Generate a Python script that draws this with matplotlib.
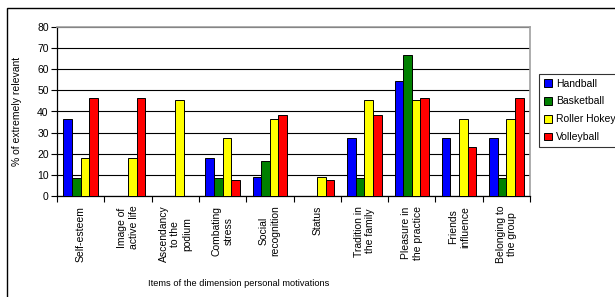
import numpy as np
import matplotlib
matplotlib.use("Agg")
import matplotlib.pyplot as plt
from matplotlib.patches import Rectangle

# ---------------------------------------------------
# DATA
# ---------------------------------------------------
categories = [
    "Self-esteem", "Image of\nactive life", "Ascendancy\nto the\npodium",
    "Combating\nstress", "Social\nrecognition", "Status",
    "Tradition in\nthe family", "Pleasure in\nthe practice",
    "Friends\ninfluence", "Belonging to\nthe group",
]
series_names = ["Handball", "Basketball", "Roller Hokey", "Volleyball"]
handball = [36.4, 0, 0, 18.2, 9.1, 0, 27.3, 54.5, 27.3, 27.3]
basketball = [8.3, 0, 0, 8.3, 16.7, 0, 8.3, 66.7, 0, 8.3]
roller_hokey = [18.2, 18.2, 45.5, 27.3, 36.4, 9.1, 45.5, 45.5, 36.4, 36.4]
volleyball = [46.2, 46.2, 0, 7.7, 38.5, 7.7, 38.5, 46.2, 23.1, 46.2]
colors = ["#0000ff", "#008000", "#ffff00", "#ff0000"]

plt.rcParams['font.family'] = ['Liberation Sans', 'DejaVu Sans']

# ---------------------------------------------------
# FIGURE
# ---------------------------------------------------
W, H = 615, 297
fig = plt.figure(figsize=(W / 100, H / 100), dpi=100)
ax = fig.add_axes([57 / W, 1 - 196 / H, (530 - 57) / W, (196 - 27) / H])

x = np.arange(len(categories)) + 0.5
width = 0.182
all_series = [handball, basketball, roller_hokey, volleyball]
for k, (vals, name, c) in enumerate(zip(all_series, series_names, colors)):
    ax.bar(x + (k - 1.5) * width, vals, width, color=c, edgecolor='black',
           linewidth=0.7, label=name, zorder=3)

ax.set_xlim(0, len(categories))
ax.set_ylim(0, 80)
ax.set_yticks(np.arange(0, 81, 10))
ax.yaxis.grid(True, color='black', linewidth=0.8, zorder=0)

# category boundaries as major ticks, labels on minor ticks
ax.set_xticks(np.arange(0, len(categories) + 1))
ax.set_xticklabels([])
ax.set_xticks(x, minor=True)
ax.set_xticklabels(categories, minor=True, rotation=90, fontsize=7.5,
                   va='top', ha='center', multialignment='center')
ax.tick_params(axis='x', which='major', direction='out', length=4, width=0.8)
ax.tick_params(axis='x', which='minor', length=0, pad=7)
ax.tick_params(axis='y', direction='out', length=4, width=0.8, labelsize=7.5, pad=2)

for side in ['left', 'bottom']:
    ax.spines[side].set_color('black')
    ax.spines[side].set_linewidth(0.9)
for side in ['top', 'right']:
    ax.spines[side].set_color('#a0a0a0')
    ax.spines[side].set_linewidth(1.2)

ax.set_ylabel("% of extremely relevant", fontsize=7.5)
ax.yaxis.set_label_coords((22 - 57) / (530 - 57), 0.5)

fig.text(239 / W, 1 - 284 / H, "Items of the dimension personal motivations",
         ha='center', va='center', fontsize=6.7)

# ---------------------------------------------------
# LEGEND
# ---------------------------------------------------
leg = fig.legend(loc='upper left', bbox_to_anchor=(539 / W, 1 - 74 / H),
                 fontsize=7.5, frameon=True, fancybox=False, handlelength=0.8,
                 handleheight=0.8, handletextpad=0.4, labelspacing=0.75,
                 borderpad=0.45, borderaxespad=0)
leg.get_frame().set_edgecolor('black')
leg.get_frame().set_linewidth(0.8)

# outer chart frame
fig.patches.append(Rectangle((7 / W, -0.1), 2, 1 - 8 / H + 0.1, transform=fig.transFigure,
                             fill=False, edgecolor='black', linewidth=1.0))

fig.savefig("out.png", dpi=100)
